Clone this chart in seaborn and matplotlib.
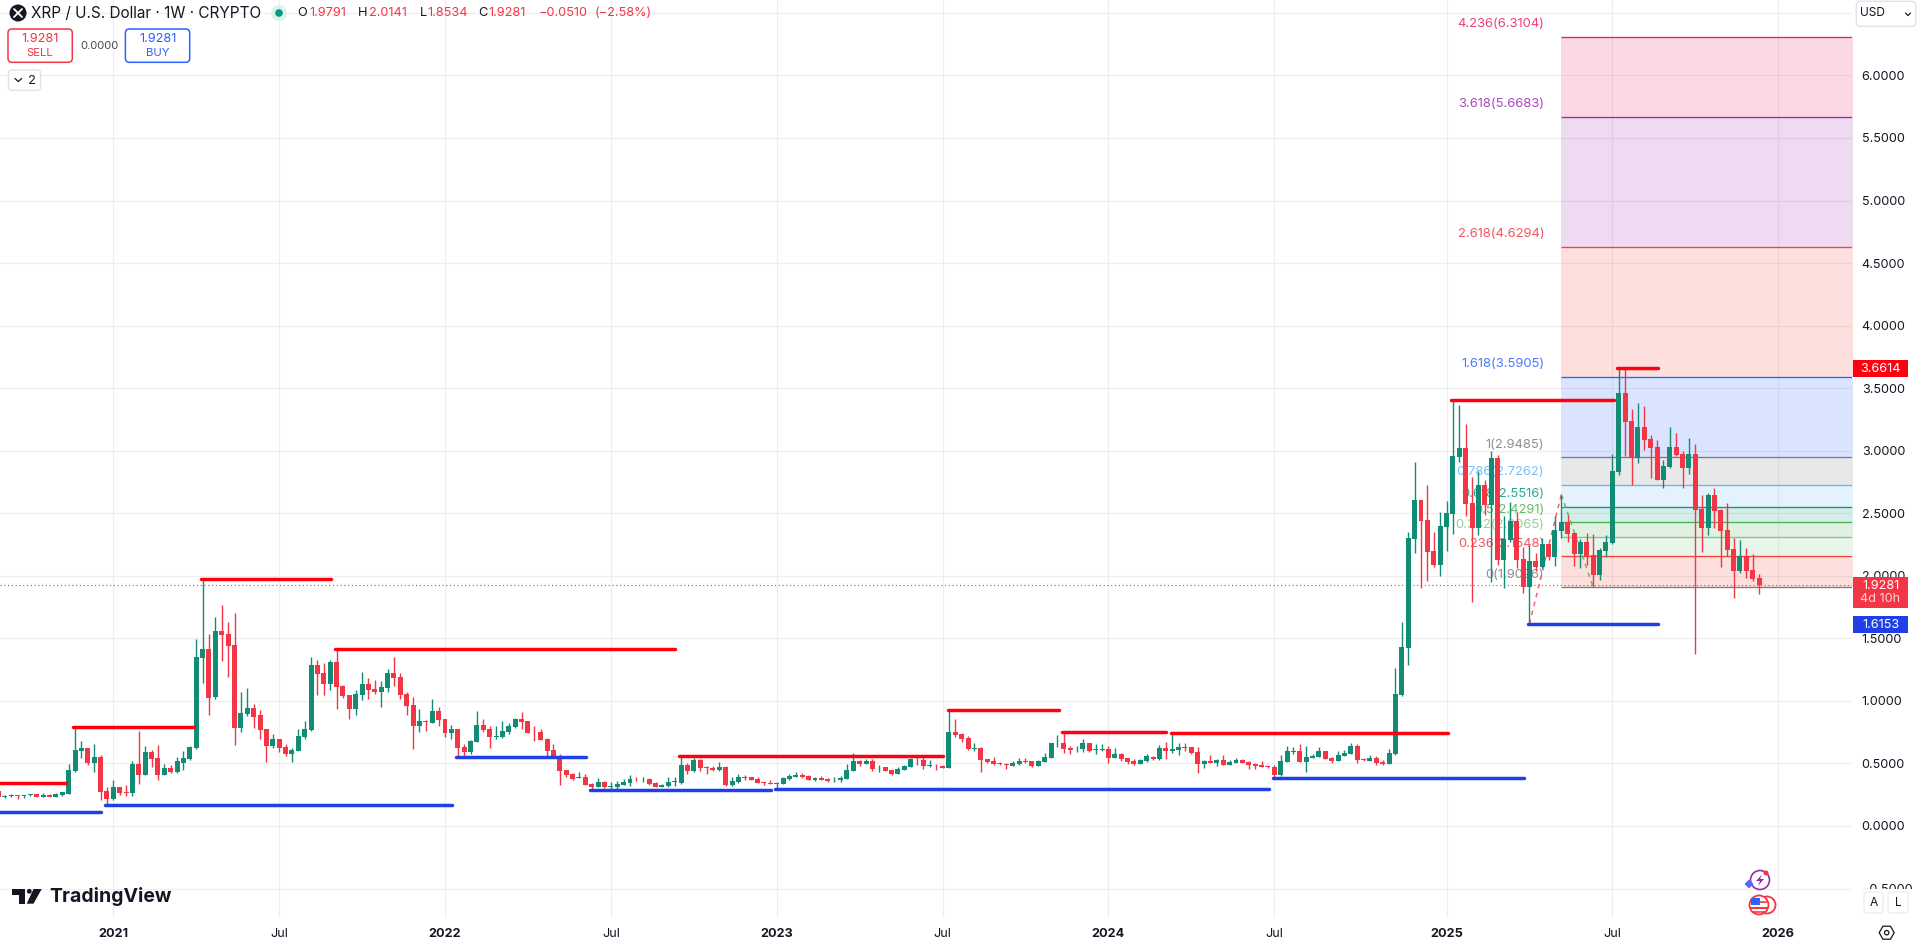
import numpy as np
import pandas as pd
import matplotlib.pyplot as plt
import seaborn as sns
from matplotlib.patches import Circle, FancyBboxPatch, Rectangle, Polygon, RegularPolygon
from matplotlib.lines import Line2D
from matplotlib.transforms import Affine2D

sns.set_theme(style="white")
plt.rcParams["font.family"] = ["Inter", "DejaVu Sans"]

W, H = 1917, 943
GREEN = "#128c74"
RED = "#f23645"
BLUE = "#1e40e6"
INK = "#131722"

#weekly candles, week 0 is the first week of 2021
first_week = -18
opens = [.280,
    .234,.242,.245,.240,.248,.256,.234,.250,.234,.248,.256,.440,.602,.624,.504,.552,.280,
    .216,.312,.269,.264,.496,.408,.592,.544,.408,.464,.432,.504,.536,.624,1.343,1.415,1.031,1.559,1.535,1.447,.783,.895,
    .943,.887,.775,.639,.695,.631,.575,.599,.711,.767,1.286,1.222,1.135,1.310,1.119,1.047,.935,1.047,1.135,1.095,
    1.071,1.103,1.223,1.191,1.055,.967,.799,.839,.823,.919,.855,.743,.775,.631,.591,.671,
    .807,.775,.711,.711,.751,.791,.855,.839,.751,.751,.695,.608,.560,.448,.416,.386,.392,.336,.312,.352,
    .314,.312,.328,.344,.378,.373,.376,.344,.312,.320,.352,.344,.488,.440,.528,.472,.464,.448,.472,.328,
    .352,.392,.392,.376,.349,.341,.338,.336,.376,.392,.408,.400,.368,.384,.376,.365,.368,.376,.440,.520,
    .496,.520,.469,.472,.448,.416,.448,.472,.536,.528,.480,.488,.480,.464,.751,
    .735,.703,.616,.624,.536,.520,.504,.496,.480,.496,.517,.520,.480,.512,.544,.661,.663,.621,.621,.616,
    .663,.608,.610,.616,.544,.576,.544,.520,.496,.520,.552,.536,.624,.602,.608,.629,.632,.592,.496,.520,
    .504,.528,.488,.504,.528,.512,.496,.488,.477,.472,.408,.512,.594,.600,.512,.544,.552,.600,.544,.520,
    .560,.576,.640,.536,.520,.544,.512,.496,
    .576,1.047,1.423,2.294,2.606,2.446,2.198,2.086,2.390,2.494,2.950,3.022,2.582,2.382,2.726,2.566,2.942,2.126,2.286,2.438,
    2.134,1.910,2.118,2.070,2.254,2.150,2.358,2.430,2.342,2.174,2.270,2.166,2.006,2.198,2.262,
    2.830,3.461,3.237,2.944,3.189,3.094,3.030,2.766,2.870,3.030,2.974,2.862,2.974,2.534,2.382,2.646,2.526,2.366,2.214,2.038,2.158,2.046,1.9791]
closes = [.234,
    .240,.248,.240,.245,.253,.234,.248,.234,.256,.272,.448,.608,.624,.504,.552,.272,.216,
    .312,.264,.266,.496,.408,.592,.536,.408,.464,.432,.520,.544,.632,1.351,1.415,1.023,1.559,1.527,1.439,.783,.903,.943,
    .871,.767,.639,.695,.623,.575,.607,.719,.775,1.286,1.214,1.135,1.310,1.111,1.039,.935,1.055,1.135,1.087,1.071,
    1.111,1.223,1.183,1.047,.959,.799,.839,.831,.919,.847,.743,.775,.623,.591,.679,.807,
    .767,.711,.719,.759,.799,.855,.831,.743,.749,.687,.600,.552,.440,.408,.376,.392,.328,.312,.352,.312,
    .320,.336,.352,.376,.373,.378,.336,.312,.328,.352,.354,.488,.440,.528,.464,.461,.448,.472,.328,.360,
    .392,.386,.368,.344,.344,.338,.344,.384,.400,.408,.392,.368,.384,.368,.360,.370,.384,.448,.520,.496,
    .520,.456,.474,.440,.416,.456,.480,.536,.533,.480,.485,.485,.466,.751,.727,
    .695,.616,.621,.528,.512,.496,.498,.490,.504,.520,.514,.480,.520,.552,.663,.666,.616,.610,.626,.663,
    .600,.613,.616,.544,.576,.536,.512,.496,.528,.560,.536,.624,.600,.616,.632,.626,.584,.496,.520,.504,
    .528,.488,.512,.528,.504,.488,.480,.472,.472,.408,.520,.600,.600,.512,.552,.560,.600,.536,.520,.568,
    .584,.640,.528,.525,.544,.504,.496,.584,
    1.055,1.431,2.302,2.606,2.438,2.190,2.086,2.398,2.502,2.958,3.022,2.574,2.382,2.726,2.566,2.942,2.126,2.294,2.438,2.126,
    1.910,2.118,2.070,2.254,2.150,2.366,2.430,2.334,2.174,2.270,2.158,2.006,2.206,2.270,2.838,
    3.461,3.229,2.944,3.189,3.086,3.022,2.766,2.878,3.030,2.966,2.862,2.974,2.526,2.382,2.646,2.518,2.358,2.206,2.038,2.158,2.038,1.974,1.9281]
highs = [.288,
    .248,.256,.248,.248,.258,.256,.264,.256,.261,.274,.496,.794,.679,.624,.655,.568,.312,
    .368,.312,.328,.520,.759,.640,.608,.648,.496,.488,.552,.600,.640,1.495,1.972,1.535,1.671,1.767,1.631,1.703,1.071,1.103,
    .975,.927,.775,.735,.695,.655,.623,.775,.839,1.350,1.326,1.302,1.326,1.412,1.127,1.047,1.087,1.231,1.183,1.167,
    1.159,1.255,1.351,1.223,1.071,1.031,.935,.847,1.015,.951,.855,.807,.775,.655,.687,.919,
    .855,.799,.799,.839,.823,.863,.911,.839,.799,.775,.703,.655,.576,.448,.424,.432,.416,.344,.384,.360,
    .352,.360,.376,.408,.392,.392,.384,.352,.336,.392,.392,.568,.504,.544,.536,.480,.480,.512,.480,.392,
    .416,.408,.392,.392,.354,.368,.352,.392,.416,.432,.424,.408,.392,.400,.384,.392,.400,.496,.584,.528,
    .536,.536,.488,.472,.448,.472,.488,.544,.552,.568,.528,.496,.488,.927,.855,
    .743,.719,.663,.632,.536,.552,.512,.504,.520,.544,.544,.520,.528,.584,.663,.727,.743,.640,.640,.695,
    .663,.655,.655,.640,.624,.584,.544,.536,.536,.576,.560,.648,.671,.743,.663,.663,.632,.632,.528,.568,
    .536,.568,.528,.544,.536,.520,.504,.520,.480,.488,.568,.640,.632,.655,.640,.576,.632,.600,.552,.600,
    .608,.663,.655,.544,.568,.560,.528,.616,
    1.263,1.631,2.350,2.910,2.606,2.726,2.350,2.510,2.598,3.397,3.365,3.213,2.790,2.838,2.766,2.998,2.966,2.478,2.590,2.510,
    2.230,2.246,2.182,2.302,2.254,2.478,2.646,2.486,2.342,2.294,2.342,2.334,2.222,2.326,2.974,
    3.6614,3.658,3.333,3.381,3.357,3.126,3.086,2.926,3.189,3.142,2.998,3.102,3.054,2.646,2.662,2.702,2.534,2.582,2.302,2.286,2.222,2.174,2.0141]
lows = [.229,
    .224,.234,.216,.224,.240,.232,.232,.232,.229,.240,.256,.432,.544,.488,.432,.208,.168,
    .208,.248,.240,.240,.336,.408,.472,.368,.408,.424,.424,.448,.528,.616,1.143,.887,1.015,1.319,1.191,.647,.751,.879,
    .783,.695,.512,.623,.591,.559,.511,.599,.695,.759,1.047,1.047,1.087,.935,1.023,.855,.887,1.007,1.015,1.055,
    .951,1.071,1.119,1.015,.887,.616,.751,.759,.823,.799,.711,.695,.552,.552,.575,.671,
    .751,.623,.695,.703,.735,.783,.775,.743,.679,.687,.560,.552,.328,.392,.368,.384,.328,.288,.312,.304,
    .296,.296,.328,.320,.360,.354,.328,.312,.312,.312,.320,.336,.416,.432,.440,.416,.440,.440,.320,.320,
    .344,.368,.368,.344,.328,.336,.288,.336,.368,.392,.384,.368,.360,.368,.352,.352,.352,.376,.440,.480,
    .496,.440,.432,.440,.408,.416,.448,.472,.488,.456,.472,.448,.464,.464,.711,
    .671,.608,.600,.432,.504,.488,.488,.456,.480,.488,.504,.472,.480,.512,.544,.632,.584,.576,.592,.592,
    .592,.576,.600,.504,.544,.520,.496,.488,.496,.512,.528,.528,.536,.584,.568,.600,.576,.424,.464,.504,
    .480,.488,.488,.504,.504,.456,.456,.472,.464,.384,.400,.512,.576,.512,.432,.544,.552,.536,.504,.520,
    .560,.576,.504,.520,.520,.488,.488,.496,
    .568,1.039,1.287,2.182,1.902,1.958,2.070,1.998,2.198,2.334,2.910,2.478,1.791,2.326,2.486,1.950,2.086,1.902,2.270,2.062,
    1.862,1.6153,2.038,2.062,2.126,2.078,2.302,2.270,2.078,2.062,2.086,1.910,1.966,2.150,2.254,
    2.806,2.958,2.726,2.902,3.006,2.782,2.766,2.702,2.862,2.958,2.702,2.814,1.375,2.190,2.326,2.382,2.070,2.158,1.823,2.022,1.982,1.958,1.8534]
assert len(opens) == len(closes) == len(highs) == len(lows), (len(opens), len(closes), len(highs), len(lows))

#support and resistance lines drawn on the chart
red_from = [-18, -6.3, 13.75, 34.75, 88.7, 130.85, 148.8, 165.8, 209.75, 235.8]
red_to = [-7.4, 12.65, 34.1, 88.0, 130.1, 148.2, 165.1, 209.2, 235.2, 242.2]
red_price = [.346, .789, 1.972, 1.418, .557, .927, .749, .746, 3.403, 3.6614]
blue_from = [-18, -1.25, 53.7, 74.8, 103.8, 181.8, 221.8]
blue_to = [-1.9, 53.1, 74.15, 103.1, 181.2, 221.2, 242.2]
blue_price = [.109, .171, .549, .290, .298, .384, 1.6153]

#fib levels
fib_ratio = ["0", "0.236", "0.382", "0.5", "0.618", "0.786", "1", "1.618", "2.618", "3.618", "4.236"]
fib_price = [1.9096, 2.1548, 2.3065, 2.4291, 2.5516, 2.7262, 2.9485, 3.5905, 4.6294, 5.6683, 6.3104]
fib_color = ["#787b86", "#f44336", "#81c784", "#4caf50", "#089981", "#64b5f6", "#787b86", "#2962ff", "#f44336", "#9c27b0", "#e91e63"]
fib_text = ["#787b86", "#f23645", "#81c784", "#4caf50", "#089981", "#64b5f6", "#787b86", "#2962ff", "#f23645", "#9c27b0", "#e91e63"]
fib_start = 226.9

swing_weeks = [222, 227, 232]
swing_price = [1.6153, 2.65, 1.91]

last_price = 1.9281
price_ticks = [-0.5, 0, 0.5, 1, 1.5, 2, 2.5, 3, 3.5, 4, 4.5, 5, 5.5, 6, 6.5]
time_ticks = [0, 26, 52, 78, 104, 130, 156, 182, 209, 235, 261]
time_labels = ["2021", "Jul", "2022", "Jul", "2023", "Jul", "2024", "Jul", "2025", "Jul", "2026"]

candles = pd.DataFrame({"open": opens, "high": highs, "low": lows, "close": closes})
candles["week"] = first_week + np.arange(len(candles))
candles["up"] = candles["close"] >= candles["open"]
candles["color"] = np.where(candles["up"], GREEN, RED)

red_lines = pd.DataFrame({
    "line": list(range(len(red_price))) * 2,
    "week": red_from + red_to,
    "price": red_price * 2})
blue_lines = pd.DataFrame({
    "line": list(range(len(blue_price))) * 2,
    "week": blue_from + blue_to,
    "price": blue_price * 2})

fig = plt.figure(figsize=(W / 100, H / 100), dpi=100, facecolor="white")
ax = fig.add_axes([0, 25 / H, 1852 / W, 918 / H])
px = Affine2D().scale(1, -1).translate(0, H)

#bands between fib levels, coloured by the upper level
for i in range(1, len(fib_price)):
    ax.fill_between([fib_start, 273], fib_price[i - 1], fib_price[i],
                    color=fib_color[i], alpha=0.17, lw=0, zorder=1)
for p, c in zip(fib_price, fib_color):
    ax.plot([fib_start, 273], [p, p], color=c, lw=0.95, zorder=2, solid_capstyle="butt")
for r, p, c in zip(fib_ratio, fib_price, fib_text):
    ax.annotate(f"{r}({p:.4f})", xy=(fib_start, p), xytext=(-16.5, 12.5), textcoords="offset pixels",
                ha="right", va="center", color=c, alpha=0.85, fontsize=9.4, zorder=2)

ax.axhline(last_price, color=RED, lw=0.8, ls=(0, (1, 2.4)), zorder=2.5)

#candles
ax.vlines(candles["week"], candles["low"], candles["high"], colors=candles["color"], lw=1.0, zorder=4)
ax.bar(candles["week"], (candles["close"] - candles["open"]).abs().clip(lower=0.006),
       bottom=candles[["open", "close"]].min(axis=1), width=0.78, color=candles["color"], lw=0, zorder=5)

sns.lineplot(data=red_lines, x="week", y="price", units="line", estimator=None, sort=False,
             color="#ff0010", lw=2.5, ax=ax, zorder=6)
sns.lineplot(data=blue_lines, x="week", y="price", units="line", estimator=None, sort=False,
             color=BLUE, lw=2.5, ax=ax, zorder=6)
sns.lineplot(x=swing_weeks[:2], y=swing_price[:2], color="#f4606c", lw=1.1, ls=(0, (3, 3)), ax=ax, zorder=3.5)
sns.lineplot(x=swing_weeks[1:], y=swing_price[1:], color="#66bb6a", lw=1.1, ls=(0, (3, 3)), ax=ax, zorder=3.5)

ax.set_xlim((0 - 113.3) / 6.379, (1852 - 113.3) / 6.379)
ax.set_ylim((826 - 918) / 125.1, 826 / 125.1)
ax.set_xlabel("")
ax.set_ylabel("")
ax.yaxis.tick_right()
ax.set_yticks(price_ticks)
ax.set_yticklabels([f"{v:.4f}".replace("-", "\u2212") for v in price_ticks][:-1] + [""], fontsize=9.1, color=INK)
ax.set_xticks(time_ticks)
ax.set_xticklabels(time_labels, fontsize=9.1, color=INK)
for lab, name in zip(ax.get_xticklabels(), time_labels):
    if name != "Jul":
        lab.set_fontweight("bold")
ax.tick_params(axis="y", length=0, pad=7)
ax.tick_params(axis="x", length=0, pad=7.5)
ax.grid(True, color="#eeeeee", lw=0.85, zorder=0)
ax.set_axisbelow(True)
for s in ax.spines.values():
    s.set_visible(False)


def ftext(x, y, s, **kw):
    kw.setdefault("va", "center")
    kw.setdefault("ha", "left")
    kw.setdefault("color", INK)
    kw.setdefault("fontsize", 9.2)
    fig.text(x / W, 1 - y / H, s, zorder=20, **kw)


def box(x0, y0, x1, y1, edge="none", face="white", r=3, lw=1.0, z=10):
    fig.add_artist(FancyBboxPatch((x0 + r, y0 + r), x1 - x0 - 2 * r, y1 - y0 - 2 * r,
                                  boxstyle=f"round,pad={r},rounding_size={r}", transform=px,
                                  ec=edge, fc=face, lw=lw, zorder=z))


def seg(xs, ys, color=INK, lw=1.0, z=15):
    fig.add_artist(Line2D(xs, ys, transform=px, color=color, lw=lw, zorder=z))


def disc(x, y, r, ec="none", fc=INK, lw=1.0, z=12):
    fig.add_artist(Circle((x, y), r, transform=px, ec=ec, fc=fc, lw=lw, zorder=z))


#header
disc(18, 13, 8.5)
seg([14, 22], [9, 17], "white", 1.3)
seg([22, 14], [9, 17], "white", 1.3)
ftext(31.3, 13, "XRP / U.S. Dollar \u00b7 1W \u00b7 CRYPTO", fontsize=11)
disc(279, 13, 8, fc="#dff1ee")
disc(279, 13, 3.8, fc="#089981", z=13)
ftext(296.9, 13, "O")
ftext(308.9, 13, "1.9791", color=RED)
ftext(358, 13, "H")
ftext(368.8, 13, "2.0141", color=RED)
ftext(419.6, 13, "L")
ftext(427.7, 13, "1.8534", color=RED)
ftext(478, 13, "C")
ftext(488.8, 13, "1.9281", color=RED)
ftext(538.8, 13, "\u22120.0510", color=RED)
ftext(594.6, 13, "(\u22122.58%)", color=RED)

box(8, 29, 72.3, 62.3, edge=RED, r=4, lw=1.1)
ftext(40, 38.7, "1.9281", color=RED, ha="center", fontsize=9.2)
ftext(40, 53, "SELL", color=RED, ha="center", fontsize=8.2)
ftext(99, 46, "0.0000", ha="center", fontsize=8, color="#434651")
box(125.4, 29, 189.7, 62.3, edge="#2962ff", r=4, lw=1.1)
ftext(157.6, 38.7, "1.9281", color="#2962ff", ha="center", fontsize=9.2)
ftext(157.6, 53, "BUY", color="#2962ff", ha="center", fontsize=8.2)
box(8.5, 70, 40.6, 90.3, edge="#e0e3eb", r=3)
seg([15, 18.3, 21.6], [78.5, 81.5, 78.5], lw=0.9)
ftext(31.7, 81, "2", ha="center", fontsize=9.4)

#right scale widgets
box(1856.3, 1.3, 1915.7, 26.3, edge="#e0e3eb", r=4)
ftext(1860, 13.5, "USD", fontsize=8.6)
seg([1905.5, 1908, 1910.5], [13, 15.5, 13], lw=0.9)

fig.add_artist(Rectangle((1853, 360), 55, 16.7, transform=px, fc="#ff0010", ec="none", zorder=10))
ftext(1880.5, 368.7, "3.6614", color="white", ha="center", fontsize=9.1)
fig.add_artist(Rectangle((1853, 577), 55, 30.7, transform=px, fc=RED, ec="none", zorder=10))
ftext(1880.5, 585.7, "1.9281", color="white", ha="center", fontsize=9.1)
ftext(1880.5, 599.3, "4d 10h", color="#fcd5d8", ha="center", fontsize=9.1)
fig.add_artist(Rectangle((1853, 616.3), 55, 16.4, transform=px, fc=BLUE, ec="none", zorder=10))
ftext(1880.5, 624.7, "1.6153", color="white", ha="center", fontsize=9.1)

#bottom right
fig.add_artist(Rectangle((1853, 889), 64, 30, transform=px, fc="white", ec="none", zorder=9))
box(1864, 892, 1883, 913, edge="#eceef2", r=3)
ftext(1873.5, 902.5, "A", ha="center", fontsize=8.6)
box(1888, 892, 1908, 913, edge="#eceef2", r=3)
ftext(1898, 902.5, "L", ha="center", fontsize=8.6)
fig.add_artist(RegularPolygon((1886.7, 932.7), 6, radius=7.5, orientation=np.pi / 2, transform=px,
                              fc="white", ec=INK, lw=0.9, zorder=12))
disc(1886.7, 932.7, 2.2, ec=INK, fc="white", lw=0.9, z=13)

#tradingview logo
fig.add_artist(Polygon([(12, 889), (24.5, 889), (24.5, 903.7), (19, 903.7), (19, 894.5), (12, 894.5)],
                       transform=px, fc=INK, ec="none", zorder=12))
disc(29.3, 891.3, 2.4)
fig.add_artist(Polygon([(33.5, 889), (41.7, 889), (33.5, 903.7), (26.7, 903.7)],
                       transform=px, fc=INK, ec="none", zorder=12))
ftext(49, 896.7, "TradingView", fontsize=14, fontweight="bold")

#small icons near the time axis
disc(1760, 880, 9.5, ec="#9c27b0", fc="white", lw=1.2)
fig.add_artist(Polygon([(1762, 874.5), (1756, 881), (1760, 881), (1758, 886), (1764, 879), (1760, 879)],
                       transform=px, fc="#9c27b0", ec="none", zorder=13))
disc(1766, 873, 2.5, fc=RED, z=14)
fig.add_artist(RegularPolygon((1749, 884), 4, radius=4.5, transform=px, fc="#4a6cf7", ec="none", zorder=14))
disc(1767, 905, 8.5, ec=RED, fc="white", lw=1.3)
disc(1759, 905, 9.5, ec=RED, fc="white", lw=1.3, z=13)
fig.add_artist(Rectangle((1751, 898), 9, 7, transform=px, fc="#2962ff", ec="none", zorder=14))
seg([1760, 1767], [902, 902], RED, 1.2)
seg([1751, 1767], [908, 908], RED, 1.5)
seg([1753, 1765], [911.5, 911.5], RED, 1.2)

fig.savefig("out.png", dpi=100)
